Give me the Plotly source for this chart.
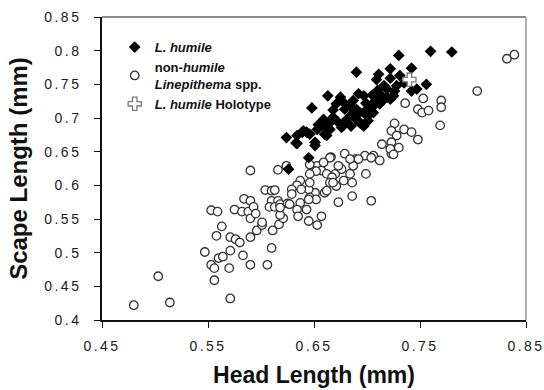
import plotly.graph_objects as go

# L. humile (black diamonds)
humile_hl = [0.780, 0.760, 0.730, 0.690, 0.711, 0.722, 0.742, 0.709, 0.722, 0.731,
             0.756, 0.747, 0.742, 0.663, 0.675, 0.692, 0.697, 0.712, 0.719, 0.726,
             0.725, 0.648, 0.671, 0.678, 0.684, 0.690, 0.693, 0.700, 0.706, 0.712,
             0.715, 0.722, 0.659, 0.665, 0.668, 0.681, 0.690, 0.693, 0.624, 0.634,
             0.640, 0.646, 0.653, 0.659, 0.665, 0.676, 0.651, 0.645, 0.626, 0.695,
             0.701, 0.686, 0.679, 0.705, 0.708, 0.704, 0.706, 0.701, 0.678, 0.697,
             0.700, 0.634, 0.719, 0.651, 0.660, 0.643, 0.633, 0.639, 0.662,
             0.668, 0.687, 0.716, 0.735, 0.654, 0.672, 0.685, 0.710, 0.728, 0.699]
humile_sl = [0.798, 0.799, 0.793, 0.768, 0.765, 0.773, 0.774, 0.757, 0.759, 0.763,
             0.750, 0.743, 0.740, 0.733, 0.731, 0.736, 0.733, 0.736, 0.731, 0.740,
             0.733, 0.715, 0.721, 0.723, 0.718, 0.713, 0.708, 0.713, 0.718, 0.721,
             0.726, 0.728, 0.698, 0.693, 0.701, 0.698, 0.698, 0.693, 0.671, 0.662,
             0.681, 0.676, 0.683, 0.688, 0.683, 0.686, 0.659, 0.641, 0.624, 0.691,
             0.704, 0.706, 0.713, 0.734, 0.726, 0.718, 0.708, 0.696, 0.690, 0.688,
             0.703, 0.674, 0.743, 0.664, 0.676, 0.679, 0.663, 0.679, 0.674,
             0.712, 0.726, 0.748, 0.752, 0.690, 0.695, 0.688, 0.741, 0.748, 0.722]

# non-humile Linepithema spp. (open circles)
other_hl = [0.480, 0.514, 0.503, 0.571, 0.547, 0.553, 0.556, 0.556, 0.570, 0.560,
            0.564, 0.571, 0.558, 0.563, 0.571, 0.576, 0.580, 0.583, 0.590, 0.590,
            0.596, 0.601, 0.606, 0.610, 0.611, 0.617, 0.621, 0.618, 0.553, 0.559,
            0.575, 0.582, 0.588, 0.590, 0.584, 0.590, 0.593, 0.595, 0.604, 0.610,
            0.613, 0.610, 0.616, 0.608, 0.613, 0.618, 0.625, 0.590, 0.616, 0.624,
            0.653, 0.666, 0.679, 0.689, 0.698, 0.706, 0.712, 0.723, 0.649, 0.657,
            0.662, 0.670, 0.667, 0.676, 0.678, 0.686, 0.684, 0.699, 0.673, 0.687,
            0.665, 0.671, 0.686, 0.704, 0.673, 0.660, 0.651, 0.645, 0.637, 0.634,
            0.629, 0.629, 0.638, 0.646, 0.646, 0.652, 0.637, 0.627, 0.634, 0.643,
            0.635, 0.645, 0.653, 0.657, 0.618, 0.601, 0.726, 0.769, 0.723, 0.728,
            0.735, 0.742, 0.748, 0.714, 0.723, 0.730, 0.722, 0.725, 0.704, 0.692,
            0.665, 0.659, 0.646, 0.684, 0.668, 0.645, 0.832, 0.839, 0.804, 0.736,
            0.753, 0.748, 0.752, 0.758, 0.770, 0.770, 0.652, 0.646, 0.662]
other_sl = [0.422, 0.426, 0.465, 0.432, 0.501, 0.482, 0.477, 0.459, 0.477, 0.492,
            0.494, 0.503, 0.525, 0.539, 0.523, 0.520, 0.515, 0.496, 0.482, 0.523,
            0.533, 0.541, 0.482, 0.507, 0.533, 0.542, 0.551, 0.556, 0.563, 0.561,
            0.564, 0.561, 0.561, 0.551, 0.580, 0.577, 0.568, 0.558, 0.593, 0.592,
            0.593, 0.577, 0.577, 0.568, 0.568, 0.572, 0.573, 0.622, 0.623, 0.629,
            0.629, 0.642, 0.647, 0.639, 0.644, 0.644, 0.637, 0.647, 0.622, 0.622,
            0.617, 0.617, 0.612, 0.624, 0.607, 0.604, 0.617, 0.617, 0.629, 0.629,
            0.604, 0.599, 0.584, 0.577, 0.575, 0.589, 0.589, 0.594, 0.607, 0.600,
            0.594, 0.587, 0.594, 0.604, 0.582, 0.579, 0.574, 0.572, 0.564, 0.564,
            0.554, 0.547, 0.541, 0.554, 0.567, 0.545, 0.692, 0.689, 0.681, 0.674,
            0.683, 0.679, 0.668, 0.661, 0.664, 0.656, 0.654, 0.646, 0.641, 0.639,
            0.641, 0.634, 0.631, 0.639, 0.604, 0.579, 0.788, 0.794, 0.740, 0.722,
            0.729, 0.713, 0.708, 0.711, 0.726, 0.716, 0.621, 0.617, 0.592]

# L. humile holotype
holotype_hl = [0.740]
holotype_sl = [0.757]

x_ticks = [0.45, 0.55, 0.65, 0.75, 0.85]
y_ticks = [0.4, 0.45, 0.5, 0.55, 0.6, 0.65, 0.7, 0.75, 0.8, 0.85]

FONT = "Liberation Sans, Arial, sans-serif"

fig = go.Figure()
fig.add_trace(go.Scatter(
    x=other_hl, y=other_sl, mode="markers",
    name="<b>non-<i>humile</i><br><i>Linepithema</i> spp.</b>",
    legendrank=2,
    marker=dict(symbol="circle", size=8.5, color="white",
                line=dict(color="#333333", width=1.3)),
))
fig.add_trace(go.Scatter(
    x=humile_hl, y=humile_sl, mode="markers",
    name="<b><i>L. humile</i></b>",
    legendrank=1,
    marker=dict(symbol="diamond", size=9, color="black",
                line=dict(color="black", width=0)),
))
fig.add_trace(go.Scatter(
    x=holotype_hl, y=holotype_sl, mode="markers",
    name="<b><i>L. humile</i> Holotype</b>",
    legendrank=3,
    marker=dict(symbol="cross", size=11, color="white",
                line=dict(color="#7a7a7a", width=1.3)),
))

fig.update_layout(
    width=544, height=390,
    margin=dict(l=102, r=18, t=17, b=70, autoexpand=False),
    paper_bgcolor="white", plot_bgcolor="white",
    font=dict(family=FONT, color="#1a1a1a"),
    showlegend=True,
    legend=dict(x=0.03, y=0.95, xanchor="left", yanchor="top",
                bgcolor="rgba(0,0,0,0)", font=dict(size=13, color="#111111"),
                tracegroupgap=0, itemsizing="trace"),
    xaxis=dict(range=[0.45, 0.85], tickvals=x_ticks, automargin=False,
               ticktext=[f"{v:.2f}" for v in x_ticks],
               showgrid=False, zeroline=False,
               showline=True, linecolor="#111111", linewidth=1.5,
               ticks="outside", ticklen=6, tickwidth=1.3, tickcolor="#111111",
               tickfont=dict(size=14, color="#1a1a1a"),
               ticklabelstandoff=6,
               title=dict(text="<b>Head Length (mm)</b>", font=dict(size=23, color="#111111"),
                          standoff=14)),
    yaxis=dict(range=[0.4, 0.85], tickvals=y_ticks, automargin=False,
               ticktext=[f"{v:g}" for v in y_ticks],
               showgrid=False, zeroline=False,
               showline=True, linecolor="#111111", linewidth=1.5,
               ticks="outside", ticklen=6, tickwidth=1.3, tickcolor="#111111",
               tickfont=dict(size=14, color="#1a1a1a"),
               ticklabelstandoff=10,
               title=dict(text="<b>Scape Length (mm)</b>", font=dict(size=24, color="#111111"),
                          standoff=20)),
    shapes=[
        dict(type="line", xref="paper", yref="paper", x0=0, x1=1, y0=1, y1=1,
             line=dict(color="#666666", width=1.5)),
        dict(type="line", xref="paper", yref="paper", x0=1, x1=1, y0=0, y1=1,
             line=dict(color="#9a9a9a", width=1.5)),
    ],
)

post = """
document.querySelectorAll('.xtick text, .ytick text').forEach(function(t){
  t.style.letterSpacing = '2.5px';
});
"""
fig.write_html("out.html", post_script=post)
